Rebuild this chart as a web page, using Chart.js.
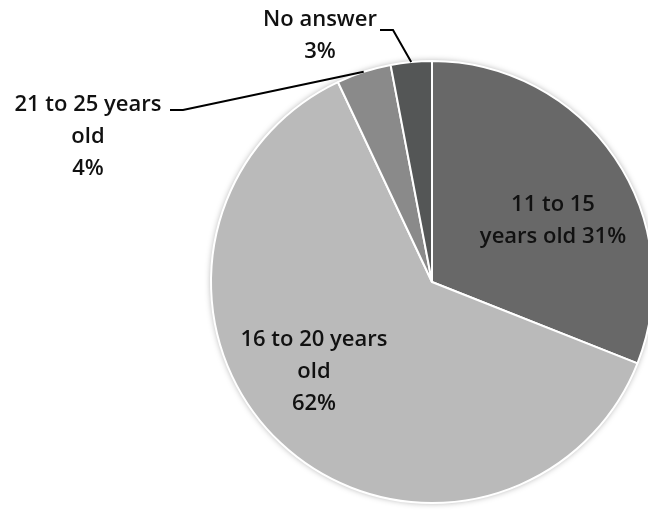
<!DOCTYPE html>
<html lang="en">
<head>
    <meta charset="UTF-8">
    <title>Age groups</title>
    <style>
        body { margin: 0; background: #fff; overflow: hidden; }
        .wrap { width: 660px; height: 520px; }
    </style>
</head>
<body>
    <div class="wrap">
        <canvas id="pieChart" width="660" height="520"></canvas>
    </div>

    <script src="https://cdn.jsdelivr.net/npm/chart.js"></script>
    <script>
        // Slice data (clockwise from 12 o'clock)
        const categories = ['11 to 15 years old', '16 to 20 years old', '21 to 25 years old', 'No answer'];
        const shares = [31, 62, 4, 3];
        const sliceColors = ['#686868', '#bababa', '#8a8a8a', '#545656'];

        // Text lines for each slice label
        const labelLines = [
            ['11 to 15', 'years old 31%'],
            ['16 to 20 years', 'old', '62%'],
            ['21 to 25 years', 'old', '4%'],
            ['No answer', '3%']
        ];

        const FONT = '600 22px "Open Sans", sans-serif';
        const LINE_H = 32;

        // label placement, offsets from pie centre; leader = outside label with a line
        const labelPlacement = [
            { dx: 121, dy: -77 },
            { dx: -118, dy: 58 },
            { dx: -344, dy: -177, leader: { fromDx: -262, fromDy: -172, elbow: 13 } },
            { dx: -112, dy: -262, leader: { fromDx: -52, fromDy: -252, elbow: 13 } }
        ];

        const shadowPlugin = {
            id: 'pieShadow',
            beforeDatasetsDraw(chart) {
                const arc = chart.getDatasetMeta(0).data[0];
                if (!arc) return;
                const ctx = chart.ctx;
                ctx.save();
                ctx.shadowColor = 'rgba(0,0,0,0.35)';
                ctx.shadowBlur = 6;
                ctx.fillStyle = '#ffffff';
                ctx.beginPath();
                ctx.arc(arc.x, arc.y, arc.outerRadius, 0, Math.PI * 2);
                ctx.fill();
                ctx.restore();
            }
        };

        const labelPlugin = {
            id: 'sliceLabels',
            afterDatasetsDraw(chart) {
                const ctx = chart.ctx;
                const arcs = chart.getDatasetMeta(0).data;
                ctx.save();
                ctx.font = FONT;
                ctx.fillStyle = '#111';
                ctx.textBaseline = 'middle';
                arcs.forEach((arc, i) => {
                    const p = labelPlacement[i];
                    const cx = arc.x + p.dx;
                    const cy = arc.y + p.dy;
                    labelLines[i].forEach((line, j) => {
                        ctx.textAlign = 'center';
                        ctx.fillText(line, cx, cy + j * LINE_H);
                    });
                    if (p.leader) {
                        const mid = (arc.startAngle + arc.endAngle) / 2;
                        const ex = arc.x + Math.cos(mid) * arc.outerRadius;
                        const ey = arc.y + Math.sin(mid) * arc.outerRadius;
                        const sx = arc.x + p.leader.fromDx;
                        const sy = arc.y + p.leader.fromDy;
                        ctx.strokeStyle = '#000';
                        ctx.lineWidth = 2;
                        ctx.beginPath();
                        ctx.moveTo(sx, sy);
                        ctx.lineTo(sx + p.leader.elbow, sy);
                        ctx.lineTo(ex, ey);
                        ctx.stroke();
                    }
                });
                ctx.restore();
            }
        };

        new Chart(document.getElementById('pieChart'), {
            type: 'pie',
            data: {
                labels: categories,
                datasets: [{
                    data: shares,
                    backgroundColor: sliceColors,
                    borderColor: '#ffffff',
                    borderWidth: 2
                }]
            },
            options: {
                responsive: false,
                animation: false,
                layout: { padding: { left: 210, top: 60, right: 6, bottom: 16 } },
                plugins: {
                    legend: { display: false },
                    tooltip: { enabled: false }
                }
            },
            plugins: [shadowPlugin, labelPlugin]
        });
    </script>
</body>
</html>
